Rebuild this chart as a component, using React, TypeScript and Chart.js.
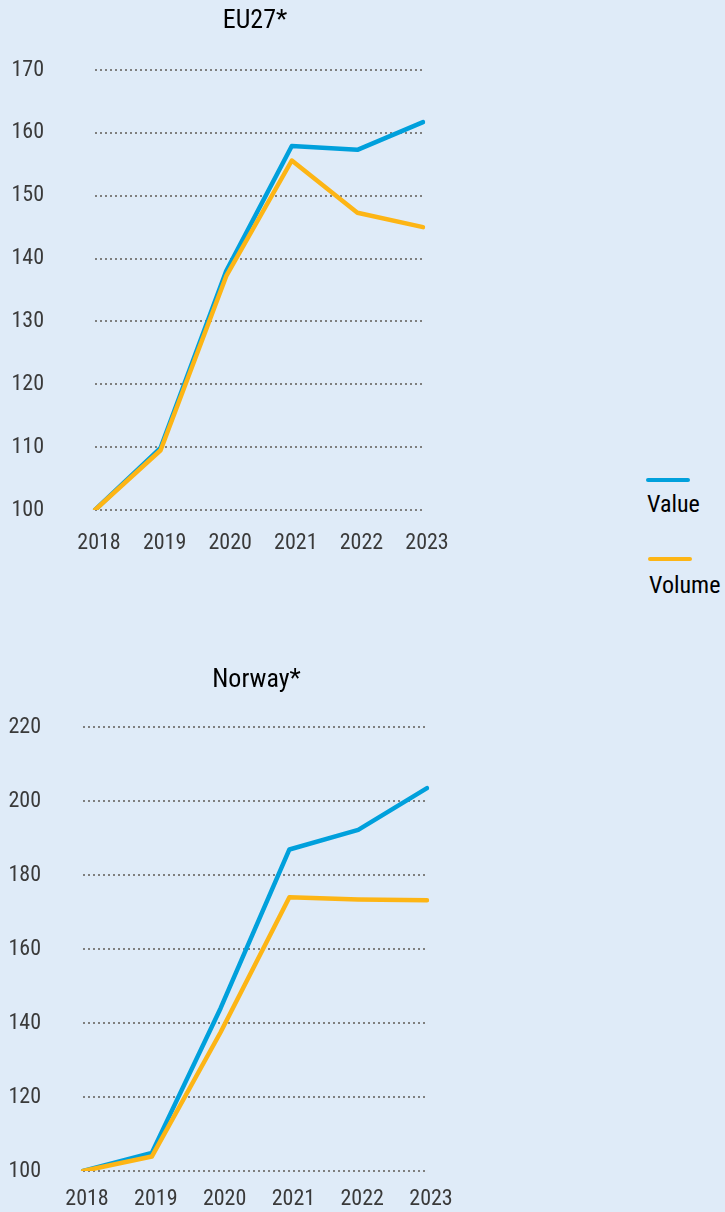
import React, { useEffect, useRef } from "react";
import { Chart, registerables } from "chart.js";

Chart.register(...registerables);

// ---- data ----
const years = ["2018", "2019", "2020", "2021", "2022", "2023"];

const euValue = [100, 109.9, 138.0, 157.9, 157.3, 161.7];
const euVolume = [100, 109.5, 137.2, 155.6, 147.3, 145.0];

const noValue = [100, 104.9, 144.0, 186.9, 192.2, 203.5];
const noVolume = [100, 103.9, 137.5, 174.0, 173.4, 173.2];

const euTitle = "EU27*";
const noTitle = "Norway*";
const legendLabels = ["Value", "Volume"];

// ---- styles ----
const FONT = "'Roboto Condensed', 'DejaVu Sans Condensed', sans-serif";
const BLUE = "#00a0dc";
const ORANGE = "#fdb515";
const BG = "#dfebf8";
const GRID = "#7f7f7f";
const TICK = "#3a3a3a";

type Props = {
  title: string;
  value: number[];
  volume: number[];
  min: number;
  max: number;
  step: number;
  left: number;
  top: number;
  width: number;
  height: number;
  yAxisWidth: number;
  yTickPad: number;
  rightPad: number;
  xAxisHeight: number;
  xTickPad: number;
  titleTop: number;
  titleBottom: number;
};

function LineChart(p: Props) {
  const ref = useRef<HTMLCanvasElement>(null);
  useEffect(() => {
    const chart = new Chart(ref.current as HTMLCanvasElement, {
      type: "line",
      data: {
        labels: years,
        datasets: [
          {
            label: legendLabels[0],
            data: p.value,
            borderColor: BLUE,
            backgroundColor: BLUE,
            borderWidth: 4.5,
            pointRadius: 0,
            tension: 0,
            borderCapStyle: "round",
            borderJoinStyle: "round",
            order: 1,
          },
          {
            label: legendLabels[1],
            data: p.volume,
            borderColor: ORANGE,
            backgroundColor: ORANGE,
            borderWidth: 4.5,
            pointRadius: 0,
            tension: 0,
            borderCapStyle: "round",
            borderJoinStyle: "round",
            order: 0,
          },
        ],
      },
      options: {
        responsive: false,
        animation: false,
        devicePixelRatio: 1,
        layout: { padding: 0 },
        plugins: {
          legend: { display: false },
          tooltip: { enabled: false },
          title: {
            display: true,
            text: p.title,
            color: "#000",
            font: { family: FONT, size: 26, weight: "normal", lineHeight: 1.2 },
            padding: { top: p.titleTop, bottom: p.titleBottom },
          },
        },
        scales: {
          x: {
            grid: { display: false, drawTicks: false },
            border: { display: false },
            ticks: {
              color: TICK,
              font: { family: FONT, size: 22 },
              padding: p.xTickPad,
              labelOffset: 4,
              maxRotation: 0,
              autoSkip: false,
            },
            afterFit: (s: any) => {
              s.height = p.xAxisHeight;
              s.paddingRight = p.rightPad;
              s.paddingLeft = 0;
            },
          },
          y: {
            min: p.min,
            max: p.max,
            grid: { color: GRID, lineWidth: 2, drawTicks: false },
            border: { display: false, dash: [2, 3] },
            ticks: {
              stepSize: p.step,
              color: TICK,
              font: { family: FONT, size: 22 },
              crossAlign: "near",
              padding: p.yTickPad,
            },
            afterFit: (s: any) => {
              s.width = p.yAxisWidth;
              s.paddingTop = 0;
              s.paddingBottom = 0;
            },
          },
        },
      },
    } as any);
    return () => chart.destroy();
  }, []);
  return (
    <canvas
      ref={ref}
      width={p.width}
      height={p.height}
      style={{
        position: "absolute",
        left: p.left,
        top: p.top,
        width: p.width,
        height: p.height,
        display: "block",
      }}
    />
  );
}

function LegendItem({ color, label, lineTop, textTop, left }: { color: string; label: string; lineTop: number; textTop: number; left: number }) {
  return (
    <>
      <div
        style={{
          position: "absolute",
          left: left,
          top: lineTop,
          width: 44,
          height: 4,
          borderRadius: 2,
          background: color,
        }}
      />
      <div
        style={{
          position: "absolute",
          left: left + 1,
          top: textTop,
          fontFamily: FONT,
          fontSize: 24,
          lineHeight: "24px",
          color: "#000",
          whiteSpace: "nowrap",
        }}
      >
        {label}
      </div>
    </>
  );
}

export default function App() {
  return (
    <div
      style={{
        position: "absolute",
        left: 0,
        top: 0,
        width: 725,
        height: 1212,
        background: BG,
        overflow: "hidden",
      }}
    >
      <LineChart
        title={euTitle}
        value={euValue}
        volume={euVolume}
        min={100}
        max={170}
        step={10}
        left={0}
        top={0}
        width={510}
        height={570}
        yAxisWidth={95}
        yTickPad={51}
        rightPad={87}
        xAxisHeight={60}
        xTickPad={20}
        titleTop={6}
        titleBottom={32.8}
      />
      <LineChart
        title={noTitle}
        value={noValue}
        volume={noVolume}
        min={100}
        max={220}
        step={20}
        left={0}
        top={620}
        width={513}
        height={592}
        yAxisWidth={83}
        yTickPad={42}
        rightPad={86}
        xAxisHeight={41}
        xTickPad={15}
        titleTop={44.4}
        titleBottom={31.4}
      />
      <LegendItem color={BLUE} label={legendLabels[0]} lineTop={477.5} textTop={491.5} left={646} />
      <LegendItem color={ORANGE} label={legendLabels[1]} lineTop={556.7} textTop={573} left={648} />
    </div>
  );
}
